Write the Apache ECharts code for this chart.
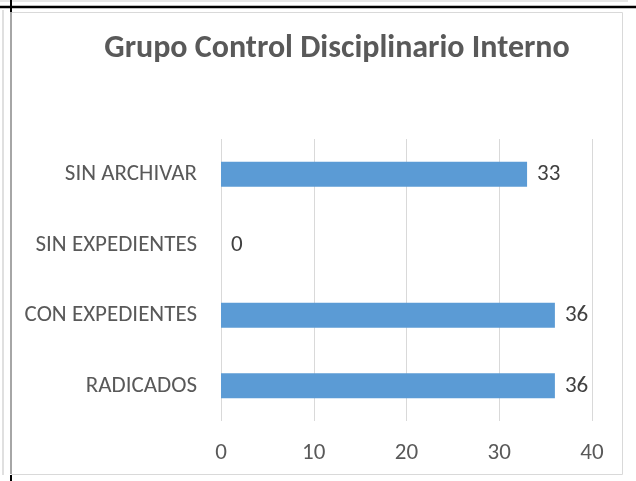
<!DOCTYPE html>
<html>
<head>
<meta charset="utf-8">
<script src="https://cdn.jsdelivr.net/npm/echarts@6/dist/echarts.min.js"></script>
<style>
html,body{margin:0;padding:0;background:#fff;}
#chart{width:636px;height:481px;}
</style>
</head>
<body>
<div id="chart"></div>
<script>
// datos de la grafica (de abajo hacia arriba)
var categorias = ['RADICADOS', 'CON EXPEDIENTES', 'SIN EXPEDIENTES', 'SIN ARCHIVAR'];
var valores = [36, 36, 0, 33];
var ticksX = [0, 10, 20, 30, 40];

var fuente = 'Carlito, Lato, sans-serif';
var gris = '#595959';

var myChart = echarts.init(document.getElementById('chart'));

var option = {
    animation: false,
    title: {
        text: 'Grupo Control Disciplinario Interno',
        left: 332,
        top: 28,
        textAlign: 'center',
        textStyle: {
            fontSize: 32,
            fontWeight: 'bold',
            fontFamily: fuente,
            color: gris
        }
    },
    graphic: [
        // marco del grafico
        {type: 'rect', shape: {x: 11.5, y: 12.5, width: 611, height: 462}, style: {fill: 'none', stroke: '#d9d9d9', lineWidth: 1}},
        {type: 'line', shape: {x1: 11, y1: 12, x2: 11, y2: 474}, style: {stroke: '#a6a6a6', lineWidth: 2}},
        {type: 'line', shape: {x1: 3, y1: 10, x2: 3, y2: 475}, style: {stroke: '#e0e0e0', lineWidth: 2}},
        {type: 'line', shape: {x1: 0, y1: 1, x2: 628, y2: 1}, style: {stroke: '#e6e6e6', lineWidth: 2}},
        // lineas negras de la tabla
        {type: 'line', shape: {x1: 0, y1: 7, x2: 636, y2: 7}, style: {stroke: '#000', lineWidth: 2.5}},
        {type: 'line', shape: {x1: 11, y1: 0, x2: 11, y2: 12}, style: {stroke: '#000', lineWidth: 2}},
        {type: 'line', shape: {x1: 11, y1: 475, x2: 11, y2: 481}, style: {stroke: '#000', lineWidth: 2}}
    ],
    grid: {
        left: 221,
        right: 44,
        top: 139,
        bottom: 60
    },
    xAxis: {
        type: 'value',
        min: ticksX[0],
        max: ticksX[ticksX.length - 1],
        interval: 10,
        axisLine: {show: false},
        axisTick: {show: false},
        splitLine: {lineStyle: {color: '#d9d9d9', width: 1}},
        axisLabel: {
            margin: 21,
            fontSize: 23,
            fontFamily: fuente,
            color: gris
        }
    },
    yAxis: {
        type: 'category',
        data: categorias,
        axisLine: {show: false},
        axisTick: {show: false},
        axisLabel: {
            margin: 24,
            fontSize: 23,
            fontFamily: fuente,
            color: gris
        }
    },
    series: [{
        type: 'bar',
        data: valores,
        barWidth: 25,
        itemStyle: {color: '#5b9bd5'},
        label: {
            show: true,
            position: 'right',
            distance: 10,
            fontSize: 23,
            fontFamily: fuente,
            color: '#404040'
        }
    }]
};

myChart.setOption(option);
</script>
</body>
</html>
